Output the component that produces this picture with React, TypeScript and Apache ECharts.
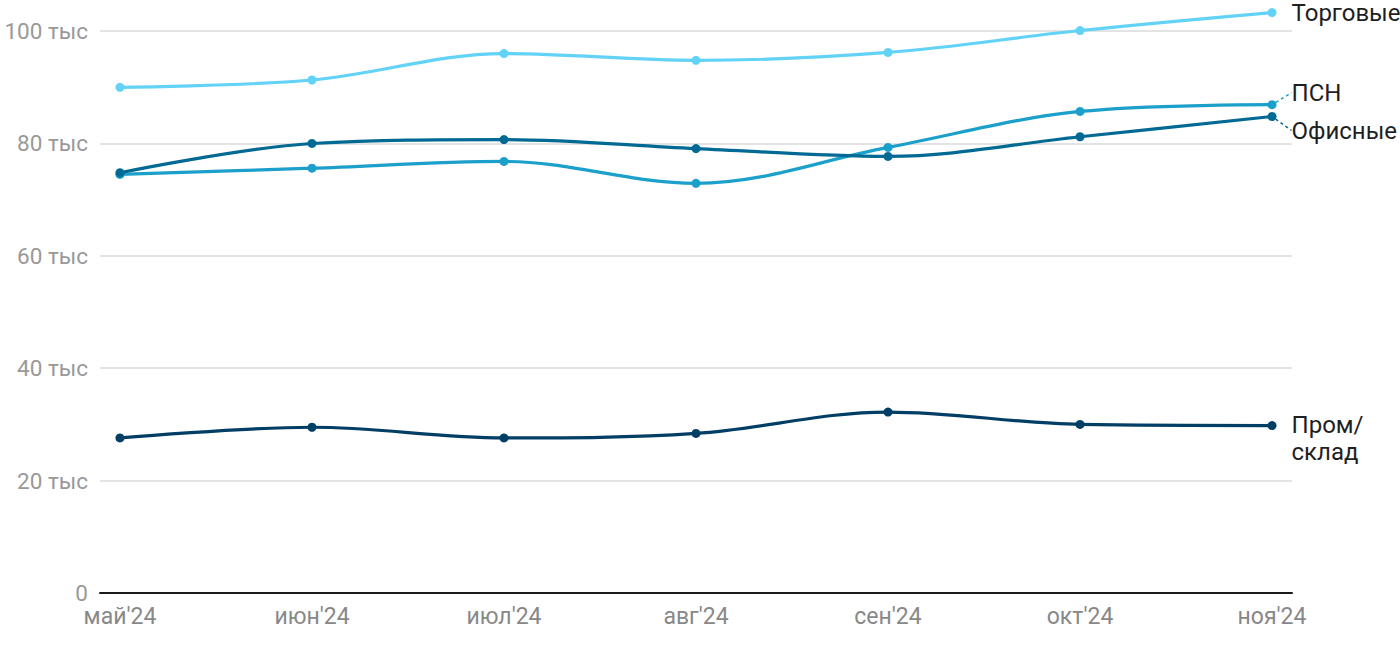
import React, { useEffect, useRef } from "react";
import * as echarts from "echarts";

const categories = ["май'24", "июн'24", "июл'24", "авг'24", "сен'24", "окт'24", "ноя'24"];
const yTicks = [0, 20, 40, 60, 80, 100];
const torgovye = [90.0, 91.3, 96.0, 94.8, 96.2, 100.1, 103.3];
const psn = [74.5, 75.6, 76.8, 72.9, 79.3, 85.7, 86.9];
const ofisnye = [74.8, 80.0, 80.7, 79.1, 77.7, 81.2, 84.8];
const promSklad = [27.6, 29.5, 27.6, 28.4, 32.2, 30.0, 29.8];

const seriesDefs = [
  { name: "Торговые", label: "Торговые", data: torgovye, color: "#62d2f7", dy: 0, guide: false },
  { name: "ПСН", label: "ПСН", data: psn, color: "#1b9fcb", dy: -12, guide: true },
  { name: "Офисные", label: "Офисные", data: ofisnye, color: "#006a94", dy: 14, guide: true },
  { name: "Пром/склад", label: "Пром/\nсклад", data: promSklad, color: "#003e66", dy: 13, guide: false },
];

export default function App() {
  const ref = useRef<HTMLDivElement>(null);
  useEffect(() => {
    if (!ref.current) return;
    const chart = echarts.init(ref.current, undefined, { renderer: "svg" });
    const font = "Roboto, Arial, sans-serif";
    chart.setOption({
      animation: false,
      grid: { left: 100, right: 108, top: 3, bottom: 57, containLabel: false },
      xAxis: {
        type: "value",
        min: -0.104,
        max: 6.104,
        axisLine: { show: true, lineStyle: { color: "#1a1a1a", width: 2 } },
        axisTick: { show: false },
        splitLine: { show: false },
        axisLabel: {
          customValues: categories.map((_, i) => i),
          formatter: (v: number) => categories[Math.round(v)] ?? "",
          color: "#888888",
          fontSize: 23,
          fontFamily: font,
          margin: 12,
        },
      },
      yAxis: {
        type: "value",
        min: 0,
        max: 105,
        interval: 20,
        axisLine: { show: false },
        axisTick: { show: false },
        splitLine: { show: true, showMaxLine: false, lineStyle: { color: "#e3e3e3", width: 2 } },
        axisLabel: {
          customValues: yTicks,
          formatter: (v: number) => (v === 0 ? "0" : `${v} тыс`),
          color: "#999999",
          fontSize: 22.5,
          fontFamily: font,
          margin: 12,
        },
      },
      series: seriesDefs.map((s) => ({
        name: s.name,
        type: "line",
        smooth: 0.35,
        symbol: "circle",
        symbolSize: 9,
        showSymbol: true,
        lineStyle: { width: 3.2, color: s.color },
        itemStyle: { color: s.color },
        data: s.data.map((v, i) =>
          i === s.data.length - 1
            ? {
                value: [i, v],
                label: {
                  show: true,
                  position: "right",
                  distance: 15,
                  formatter: s.label,
                  color: "#1f1f1f",
                  fontSize: 24,
                  fontFamily: font,
                  lineHeight: 27,
                },
                labelLine: {
                  show: s.guide,
                  lineStyle: { color: s.color, type: [3, 3], width: 1.5 },
                },
              }
            : [i, v]
        ),
        labelLayout: { dy: s.dy },
        labelLine: { show: s.guide, lineStyle: { color: s.color, type: [3, 3], width: 1.5 } },
        emphasis: { disabled: true },
      })),
    });
    return () => chart.dispose();
  }, []);
  return (
    <div
      ref={ref}
      style={{ position: "fixed", left: 0, top: 0, width: 1400, height: 650, background: "#fff" }}
    />
  );
}
